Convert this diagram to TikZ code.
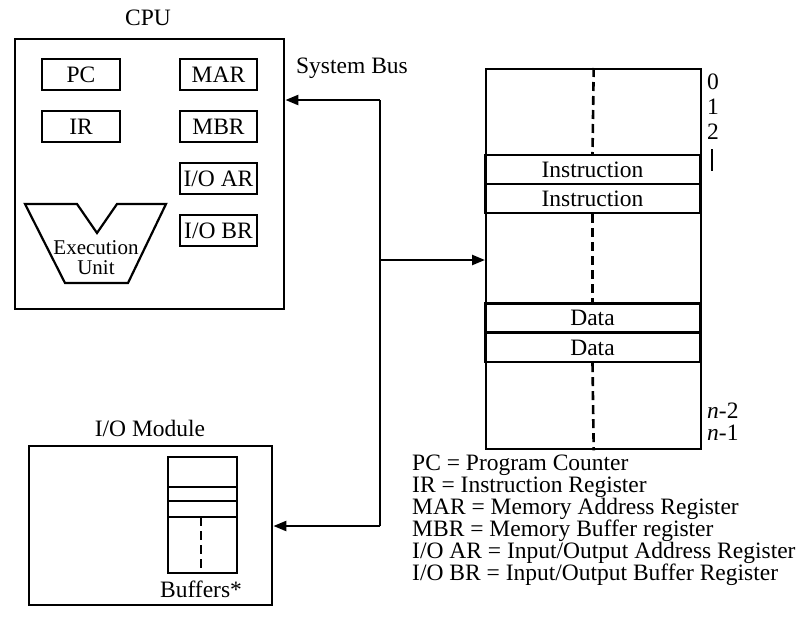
\documentclass[tikz,border=0pt]{standalone}
\usepackage{fontspec}
\setmainfont{Liberation Serif}
\usetikzlibrary{arrows.meta}
\begin{document}
\begin{tikzpicture}[x=1pt,y=-1pt,
  every node/.style={font=\fontsize{23.5}{22}\selectfont},
  bx/.style={draw,line width=2.2pt,inner sep=0pt,minimum width=77pt,minimum height=31pt},
  frame/.style={draw,line width=2.4pt,inner sep=0pt,anchor=north west},
  rowbox/.style={draw,line width=2.2pt,inner sep=0pt,minimum width=215pt,minimum height=29pt},
  dashline/.style={line width=2.6pt,dash pattern=on 9pt off 5pt},
  thinline/.style={line width=2.2pt},
  busline/.style={line width=2.4pt},
  arr/.style={line width=2.4pt,-{Triangle[length=13pt,width=10pt]}},
  lbl/.style={anchor=west,inner sep=0pt}]
\useasboundingbox (0,0) rectangle (803,624);
% CPU
\node (cpulbl) at (148,18) {CPU};
\node[frame,minimum width=269pt,minimum height=270pt] (cpu) at (14,38) {};
\node[bx,minimum width=78pt] (pc) at (81,74.5) {PC};
\node[bx,minimum width=78pt] (ir) at (81,126.5) {IR};
\node[bx] (mar) at (218.5,74.5) {MAR};
\node[bx] (mbr) at (218.5,126.5) {MBR};
\node[bx] (ioar) at (218.5,178.5) {I/O AR};
\node[bx] (iobr) at (218.5,230.5) {I/O BR};
\draw[thinline,line join=miter] (25,204) -- (77,204) -- (97,233) -- (117,204) -- (166,204) -- (128,283) -- (65,283) -- cycle;
\node[align=center,inner sep=0pt,font=\fontsize{21}{20}\selectfont] (exec) at (96,258) {Execution\\Unit};
% System bus
\node (buslbl) at (352,68) {System Bus};
\coordinate (bt) at (380,100);
\coordinate (bm) at (380,260);
\coordinate (bb) at (380,526);
% Memory
\node[frame,minimum width=215pt,minimum height=380pt] (mem) at (485,68) {};
\node[rowbox] (ins1) at (592.5,169.5) {Instruction};
\node[rowbox] (ins2) at (592.5,198.5) {Instruction};
\node[rowbox] (dat1) at (592.5,318) {Data};
\node[rowbox] (dat2) at (592.5,347.5) {Data};
\draw[dashline] (mem.north) -- (ins1.north);
\draw[dashline] (ins2.south) -- (dat1.north);
\draw[dashline] (dat2.south) -- (mem.south);
\node[lbl] (m0) at (707,82) {0};
\node[lbl] (m1) at (707,107) {1};
\node[lbl] (m2) at (707,132) {2};
\coordinate (vd1) at (712,149);
\coordinate (vd2) at (712,171);
\draw[line width=1.6pt] (vd1) -- (vd2);
\node[lbl] (mn2) at (707,411) {\textit{n}-2};
\node[lbl] (mn1) at (707,433) {\textit{n}-1};
% I/O module
\node (iolbl) at (150,428) {I/O Module};
\node[frame,minimum width=243pt,minimum height=159pt] (io) at (28,445) {};
\node[frame,line width=2.2pt,minimum width=69pt,minimum height=116pt] (buf) at (167,456) {};
\coordinate (b1l) at (167,487); \coordinate (b1r) at (236,487);
\coordinate (b2l) at (167,501); \coordinate (b2r) at (236,501);
\coordinate (b3l) at (167,517); \coordinate (b3r) at (236,517);
\draw[thinline] (b1l) -- (b1r);
\draw[thinline] (b2l) -- (b2r);
\draw[thinline] (b3l) -- (b3r);
\coordinate (bd) at (201,517);
\draw[dashline] (bd) -- (bd |- buf.south);
\node (buflbl) at (201,589) {Buffers*};
% bus connectors
\draw[busline] (bb) -- (bt);
\draw[arr] (bt) -- (bt -| cpu.east);
\draw[arr] (bm) -- (bm -| mem.west);
\draw[arr] (bb) -- (bb -| io.east);
% legend
\node[lbl] (l1) at (412,465) {PC = Program Counter};
\node[lbl] (l2) at (412,487) {IR = Instruction Register};
\node[lbl] (l3) at (412,509) {MAR = Memory Address Register};
\node[lbl] (l4) at (412,531) {MBR = Memory Buffer register};
\node[lbl] (l5) at (412,553) {I/O AR = Input/Output Address Register};
\node[lbl] (l6) at (412,575) {I/O BR = Input/Output Buffer Register};
\end{tikzpicture}
\end{document}
